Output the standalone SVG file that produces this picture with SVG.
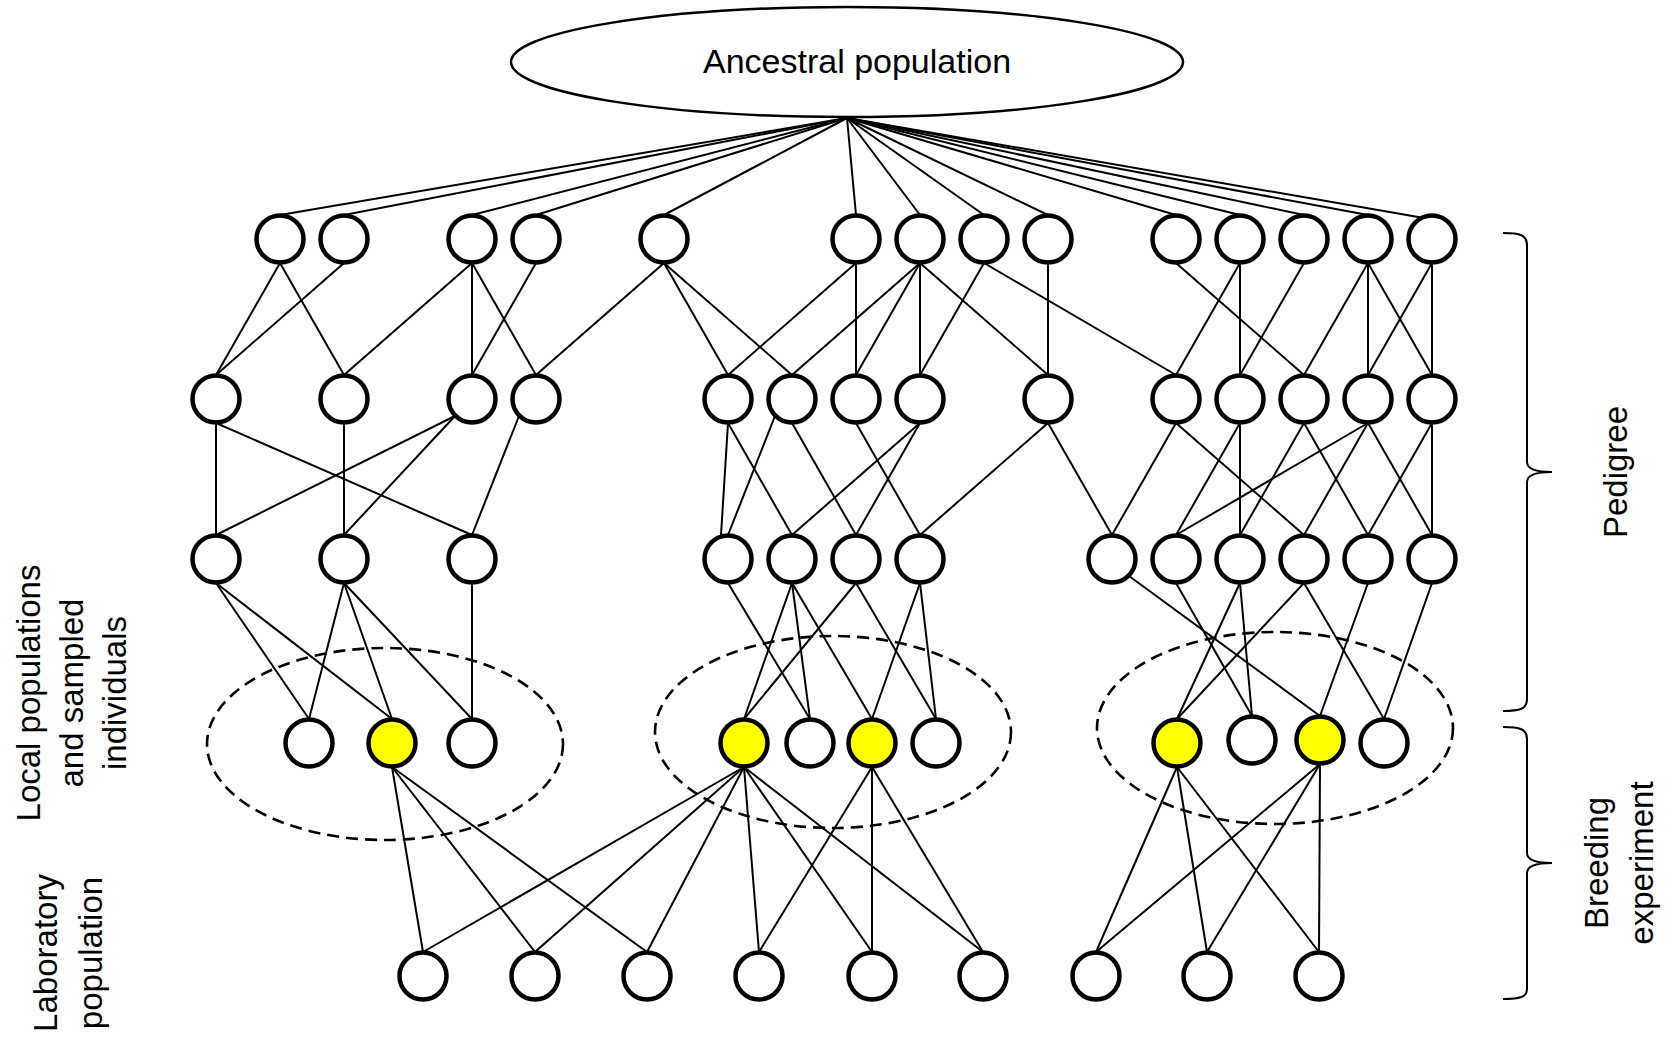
<svg xmlns="http://www.w3.org/2000/svg" width="1673" height="1039" viewBox="0 0 1673 1039">
<style>
.n{fill:#fff;stroke:#000;stroke-width:4.5}
.y{fill:#ffff00;stroke:#000;stroke-width:4.5}
.t{font-family:"Liberation Sans",Arial,sans-serif;font-size:33px;fill:#000}
.dash{fill:none;stroke:#000;stroke-width:2.6;stroke-dasharray:12 7}
.br{fill:none;stroke:#000;stroke-width:2}
</style>
<rect width="1673" height="1039" fill="#fff"/>
<g id="connectors" stroke="#000" stroke-width="2" fill="none">
<!-- ancestral to row 1 -->
<line x1="847" y1="118" x2="280" y2="215"/>
<line x1="847" y1="118" x2="344" y2="215"/>
<line x1="847" y1="118" x2="472" y2="215"/>
<line x1="847" y1="118" x2="536" y2="215"/>
<line x1="847" y1="118" x2="664" y2="215"/>
<line x1="847" y1="118" x2="856" y2="215"/>
<line x1="847" y1="118" x2="920" y2="215"/>
<line x1="847" y1="118" x2="984" y2="215"/>
<line x1="847" y1="118" x2="1048" y2="215"/>
<line x1="847" y1="118" x2="1176" y2="215"/>
<line x1="847" y1="118" x2="1240" y2="215"/>
<line x1="847" y1="118" x2="1304" y2="215"/>
<line x1="847" y1="118" x2="1368" y2="215"/>
<line x1="847" y1="118" x2="1447" y2="222"/>
<!-- row 1 to row 2 -->
<line x1="280" y1="263" x2="216" y2="375"/>
<line x1="280" y1="263" x2="344" y2="375"/>
<line x1="344" y1="263" x2="216" y2="375"/>
<line x1="472" y1="263" x2="344" y2="375"/>
<line x1="472" y1="263" x2="472" y2="375"/>
<line x1="472" y1="263" x2="536" y2="375"/>
<line x1="536" y1="263" x2="472" y2="375"/>
<line x1="664" y1="263" x2="536" y2="375"/>
<line x1="664" y1="263" x2="728" y2="375"/>
<line x1="664" y1="263" x2="792" y2="375"/>
<line x1="856" y1="263" x2="728" y2="375"/>
<line x1="856" y1="263" x2="856" y2="375"/>
<line x1="920" y1="263" x2="792" y2="375"/>
<line x1="920" y1="263" x2="856" y2="375"/>
<line x1="920" y1="263" x2="920" y2="375"/>
<line x1="920" y1="263" x2="1048" y2="375"/>
<line x1="984" y1="263" x2="920" y2="375"/>
<line x1="984" y1="263" x2="1176" y2="375"/>
<line x1="1048" y1="263" x2="1048" y2="375"/>
<line x1="1176" y1="263" x2="1304" y2="375"/>
<line x1="1240" y1="263" x2="1176" y2="375"/>
<line x1="1240" y1="263" x2="1240" y2="375"/>
<line x1="1304" y1="263" x2="1240" y2="375"/>
<line x1="1368" y1="263" x2="1304" y2="375"/>
<line x1="1368" y1="263" x2="1368" y2="375"/>
<line x1="1368" y1="263" x2="1432" y2="375"/>
<line x1="1432" y1="263" x2="1368" y2="375"/>
<line x1="1432" y1="263" x2="1432" y2="375"/>
<!-- row 2 to row 3 -->
<line x1="216" y1="423" x2="216" y2="535"/>
<line x1="216" y1="423" x2="472" y2="535"/>
<line x1="344" y1="423" x2="344" y2="535"/>
<line x1="455" y1="416" x2="216" y2="535"/>
<line x1="455" y1="416" x2="344" y2="535"/>
<line x1="519" y1="416" x2="472" y2="535"/>
<line x1="728" y1="423" x2="721" y2="535"/>
<line x1="728" y1="423" x2="792" y2="535"/>
<line x1="775" y1="416" x2="728" y2="535"/>
<line x1="792" y1="423" x2="856" y2="535"/>
<line x1="856" y1="423" x2="920" y2="535"/>
<line x1="920" y1="423" x2="792" y2="535"/>
<line x1="920" y1="423" x2="856" y2="535"/>
<line x1="1048" y1="423" x2="920" y2="535"/>
<line x1="1048" y1="423" x2="1112" y2="535"/>
<line x1="1176" y1="423" x2="1112" y2="535"/>
<line x1="1176" y1="423" x2="1304" y2="535"/>
<line x1="1240" y1="423" x2="1176" y2="535"/>
<line x1="1240" y1="423" x2="1240" y2="535"/>
<line x1="1304" y1="423" x2="1240" y2="535"/>
<line x1="1304" y1="423" x2="1368" y2="535"/>
<line x1="1368" y1="423" x2="1176" y2="535"/>
<line x1="1368" y1="423" x2="1304" y2="535"/>
<line x1="1368" y1="423" x2="1432" y2="535"/>
<line x1="1432" y1="423" x2="1368" y2="535"/>
<line x1="1432" y1="423" x2="1432" y2="535"/>
<!-- row 3 to sampled -->
<line x1="216" y1="583" x2="309" y2="719"/>
<line x1="216" y1="583" x2="392" y2="719"/>
<line x1="344" y1="583" x2="309" y2="719"/>
<line x1="344" y1="583" x2="392" y2="719"/>
<line x1="344" y1="583" x2="472" y2="719"/>
<line x1="472" y1="583" x2="472" y2="719"/>
<line x1="728" y1="583" x2="810" y2="719"/>
<line x1="792" y1="583" x2="744" y2="719"/>
<line x1="792" y1="583" x2="810" y2="719"/>
<line x1="792" y1="583" x2="872" y2="719"/>
<line x1="856" y1="583" x2="744" y2="719"/>
<line x1="856" y1="583" x2="936" y2="719"/>
<line x1="920" y1="583" x2="872" y2="719"/>
<line x1="920" y1="583" x2="936" y2="719"/>
<line x1="1129" y1="576" x2="1320" y2="716"/>
<line x1="1176" y1="583" x2="1252" y2="716"/>
<line x1="1240" y1="583" x2="1177" y2="719"/>
<line x1="1240" y1="583" x2="1252" y2="716"/>
<line x1="1304" y1="583" x2="1177" y2="719"/>
<line x1="1304" y1="583" x2="1384" y2="719"/>
<line x1="1368" y1="583" x2="1320" y2="716"/>
<line x1="1432" y1="583" x2="1384" y2="719"/>
<!-- sampled to laboratory -->
<line x1="392" y1="767" x2="423" y2="952"/>
<line x1="392" y1="767" x2="535" y2="952"/>
<line x1="392" y1="767" x2="647" y2="952"/>
<line x1="744" y1="767" x2="423" y2="952"/>
<line x1="744" y1="767" x2="535" y2="952"/>
<line x1="744" y1="767" x2="647" y2="952"/>
<line x1="744" y1="767" x2="759" y2="952"/>
<line x1="744" y1="767" x2="872" y2="952"/>
<line x1="744" y1="767" x2="983" y2="952"/>
<line x1="872" y1="767" x2="759" y2="952"/>
<line x1="872" y1="767" x2="872" y2="952"/>
<line x1="872" y1="767" x2="983" y2="952"/>
<line x1="1177" y1="767" x2="1096" y2="952"/>
<line x1="1177" y1="767" x2="1207" y2="952"/>
<line x1="1177" y1="767" x2="1319" y2="952"/>
<line x1="1320" y1="764" x2="1096" y2="952"/>
<line x1="1320" y1="764" x2="1207" y2="952"/>
<line x1="1320" y1="764" x2="1319" y2="952"/>
</g>
<g id="local-populations">
<ellipse class="dash" cx="385" cy="744" rx="178" ry="96"/>
<ellipse class="dash" cx="833" cy="732" rx="178" ry="96"/>
<ellipse class="dash" cx="1275" cy="728" rx="178" ry="96"/>
</g>
<g id="ancestral">
<ellipse cx="847" cy="62" rx="336" ry="55" fill="#fff" stroke="#000" stroke-width="2.5"/>
<text class="t" x="857" y="73" text-anchor="middle" style="font-size:34px">Ancestral population</text>
</g>
<g id="row1">
<g id="a1"><circle class="n" cx="280" cy="239" r="23.5"/></g>
<g id="a2"><circle class="n" cx="344" cy="239" r="23.5"/></g>
<g id="a4"><circle class="n" cx="472" cy="239" r="23.5"/></g>
<g id="a5"><circle class="n" cx="536" cy="239" r="23.5"/></g>
<g id="a7"><circle class="n" cx="664" cy="239" r="23.5"/></g>
<g id="a10"><circle class="n" cx="856" cy="239" r="23.5"/></g>
<g id="a11"><circle class="n" cx="920" cy="239" r="23.5"/></g>
<g id="a12"><circle class="n" cx="984" cy="239" r="23.5"/></g>
<g id="a13"><circle class="n" cx="1048" cy="239" r="23.5"/></g>
<g id="a15"><circle class="n" cx="1176" cy="239" r="23.5"/></g>
<g id="a16"><circle class="n" cx="1240" cy="239" r="23.5"/></g>
<g id="a17"><circle class="n" cx="1304" cy="239" r="23.5"/></g>
<g id="a18"><circle class="n" cx="1368" cy="239" r="23.5"/></g>
<g id="a19"><circle class="n" cx="1432" cy="239" r="23.5"/></g>
</g>
<g id="row2">
<g id="b0"><circle class="n" cx="216" cy="399" r="23.5"/></g>
<g id="b2"><circle class="n" cx="344" cy="399" r="23.5"/></g>
<g id="b4"><circle class="n" cx="472" cy="399" r="23.5"/></g>
<g id="b5"><circle class="n" cx="536" cy="399" r="23.5"/></g>
<g id="b8"><circle class="n" cx="728" cy="399" r="23.5"/></g>
<g id="b9"><circle class="n" cx="792" cy="399" r="23.5"/></g>
<g id="b10"><circle class="n" cx="856" cy="399" r="23.5"/></g>
<g id="b11"><circle class="n" cx="920" cy="399" r="23.5"/></g>
<g id="b13"><circle class="n" cx="1048" cy="399" r="23.5"/></g>
<g id="b15"><circle class="n" cx="1176" cy="399" r="23.5"/></g>
<g id="b16"><circle class="n" cx="1240" cy="399" r="23.5"/></g>
<g id="b17"><circle class="n" cx="1304" cy="399" r="23.5"/></g>
<g id="b18"><circle class="n" cx="1368" cy="399" r="23.5"/></g>
<g id="b19"><circle class="n" cx="1432" cy="399" r="23.5"/></g>
</g>
<g id="row3">
<g id="c0"><circle class="n" cx="216" cy="559" r="23.5"/></g>
<g id="c2"><circle class="n" cx="344" cy="559" r="23.5"/></g>
<g id="c4"><circle class="n" cx="472" cy="559" r="23.5"/></g>
<g id="c8"><circle class="n" cx="728" cy="559" r="23.5"/></g>
<g id="c9"><circle class="n" cx="792" cy="559" r="23.5"/></g>
<g id="c10"><circle class="n" cx="856" cy="559" r="23.5"/></g>
<g id="c11"><circle class="n" cx="920" cy="559" r="23.5"/></g>
<g id="c14"><circle class="n" cx="1112" cy="559" r="23.5"/></g>
<g id="c15"><circle class="n" cx="1176" cy="559" r="23.5"/></g>
<g id="c16"><circle class="n" cx="1240" cy="559" r="23.5"/></g>
<g id="c17"><circle class="n" cx="1304" cy="559" r="23.5"/></g>
<g id="c18"><circle class="n" cx="1368" cy="559" r="23.5"/></g>
<g id="c19"><circle class="n" cx="1432" cy="559" r="23.5"/></g>
</g>
<g id="row4">
<g id="d1"><circle class="n" cx="309" cy="743" r="23.5"/></g>
<g id="d2"><circle class="y" cx="392" cy="743" r="23.5"/></g>
<g id="d3"><circle class="n" cx="472" cy="743" r="23.5"/></g>
<g id="d4"><circle class="y" cx="744" cy="743" r="23.5"/></g>
<g id="d5"><circle class="n" cx="810" cy="743" r="23.5"/></g>
<g id="d6"><circle class="y" cx="872" cy="743" r="23.5"/></g>
<g id="d7"><circle class="n" cx="936" cy="743" r="23.5"/></g>
<g id="d8"><circle class="y" cx="1177" cy="743" r="23.5"/></g>
<g id="d9"><circle class="n" cx="1252" cy="740" r="23.5"/></g>
<g id="d10"><circle class="y" cx="1320" cy="740" r="23.5"/></g>
<g id="d11"><circle class="n" cx="1384" cy="743" r="23.5"/></g>
</g>
<g id="row5">
<g id="e1"><circle class="n" cx="423" cy="976" r="23.5"/></g>
<g id="e2"><circle class="n" cx="535" cy="976" r="23.5"/></g>
<g id="e3"><circle class="n" cx="647" cy="976" r="23.5"/></g>
<g id="e4"><circle class="n" cx="759" cy="976" r="23.5"/></g>
<g id="e5"><circle class="n" cx="872" cy="976" r="23.5"/></g>
<g id="e6"><circle class="n" cx="983" cy="976" r="23.5"/></g>
<g id="e7"><circle class="n" cx="1096" cy="976" r="23.5"/></g>
<g id="e8"><circle class="n" cx="1207" cy="976" r="23.5"/></g>
<g id="e9"><circle class="n" cx="1319" cy="976" r="23.5"/></g>
</g>
<g id="labels-left">
<text class="t" transform="translate(0,693) rotate(-90)" text-anchor="middle"><tspan x="0" y="40">Local populations</tspan><tspan x="0" y="83">and sampled</tspan><tspan x="0" y="126">individuals</tspan></text>
<text class="t" transform="translate(0,953) rotate(-90)" text-anchor="middle"><tspan x="0" y="57">Laboratory</tspan><tspan x="0" y="102">population</tspan></text>
</g>
<g id="pedigree">
<path class="br" d="M1503,233 C1520,233 1527,235 1527,245 L1527,462 C1527,469 1535,472 1552,472 C1535,472 1527,475 1527,482 L1527,699 C1527,709 1520,711 1503,711"/>
<text class="t" transform="translate(0,472) rotate(-90)" text-anchor="middle"><tspan x="0" y="1627">Pedigree</tspan></text>
</g>
<g id="breeding">
<path class="br" d="M1503,727 C1520,727 1527,729 1527,739 L1527,853 C1527,860 1535,863 1552,863 C1535,863 1527,866 1527,873 L1527,989 C1527,997 1520,999 1503,999"/>
<text class="t" transform="translate(0,863) rotate(-90)" text-anchor="middle"><tspan x="0" y="1608">Breeding</tspan><tspan x="0" y="1653">experiment</tspan></text>
</g>
</svg>
